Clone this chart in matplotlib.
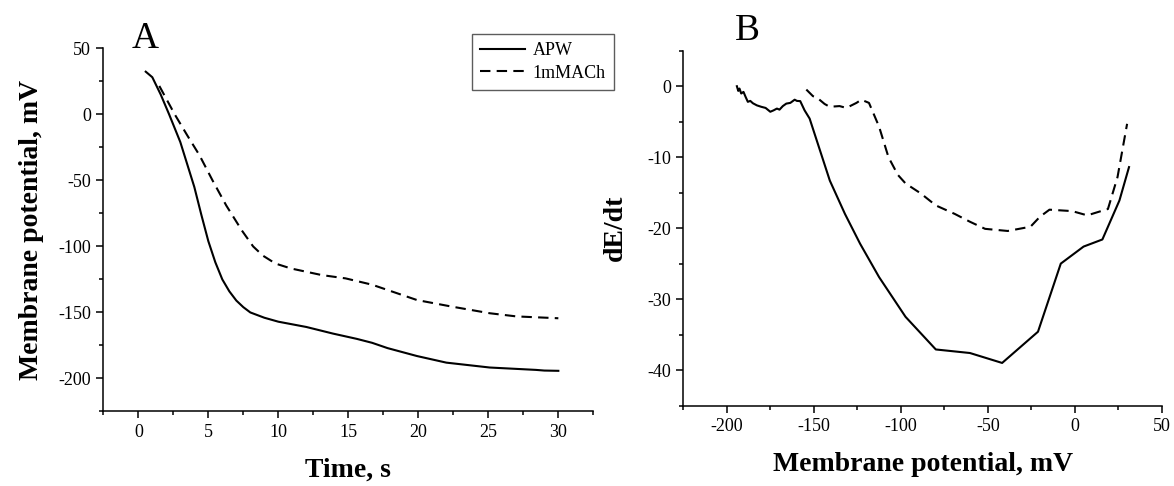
import matplotlib
matplotlib.use("Agg")
import matplotlib.pyplot as plt
from matplotlib.ticker import MultipleLocator

plt.rcParams['font.family'] = ['Liberation Serif', 'DejaVu Serif']
plt.rcParams['axes.unicode_minus'] = False

# panel A: membrane potential vs time
tA_apw = [0.53, 1.0, 1.6, 2.2, 3.0, 3.5, 4.0, 4.5, 5.0, 5.5, 6.0, 6.5, 7.0, 7.5, 8.0,
          9.0, 10.0, 12.0, 13.9, 15.6, 16.7, 17.8, 19.9, 22.0, 25.1, 28.4, 29.0, 30.0]
eA_apw = [32.3, 28.1, 15.0, 0.0, -21.0, -38.0, -55.0, -76.0, -96.0, -112.0, -125.0, -134.0,
          -141.0, -146.0, -150.0, -154.0, -157.0, -161.0, -166.0, -170.0, -173.0, -177.0,
          -183.0, -188.0, -191.7, -193.5, -194.0, -194.2]
tA_ach = [1.5, 2.6, 3.5, 4.37, 5.3, 6.28, 7.4, 8.2, 8.9, 9.8, 10.9, 13.1, 14.8, 16.7, 19.9,
          22.4, 25.1, 27.0, 30.0]
eA_ach = [21.5, 0.0, -16.0, -31.0, -50.0, -69.0, -88.0, -100.0, -107.0, -113.0, -116.7,
          -121.7, -124.2, -129.0, -140.6, -145.6, -150.6, -153.0, -154.4]

# panel B: dE/dt vs membrane potential
eB_apw = [-194.2, -193.4, -192.7, -191.7, -190.4, -189.2, -187.9, -186.5, -185.0, -182.7,
          -180.2, -177.7, -175.0, -173.1, -171.2, -169.7, -167.8, -165.8, -163.5, -161.0,
          -159.7, -157.8, -155.3, -152.4, -140.8, -132.1, -123.4, -112.5, -97.3, -79.9,
          -60.3, -41.8, -21.2, -8.1, 5.0, 15.8, 25.6, 31.1]
dB_apw = [0.0, -0.66, -0.33, -1.03, -0.8, -1.5, -2.2, -2.07, -2.4, -2.7, -2.9, -3.06, -3.6,
          -3.4, -3.15, -3.3, -2.8, -2.45, -2.35, -1.9, -2.07, -2.1, -3.4, -4.56, -13.3, -18.0,
          -22.2, -26.9, -32.5, -37.1, -37.6, -39.0, -34.6, -25.0, -22.6, -21.6, -16.1, -11.4]
eB_ach = [-154.3, -150.5, -148.2, -143.8, -140.9, -135.2, -131.3, -125.5, -122.7, -118.3,
          -112.5, -107.1, -101.7, -97.3, -88.6, -79.9, -69.0, -60.3, -51.6, -38.6, -25.5,
          -20.1, -14.6, -1.6, 7.1, 19.0, 24.5, 30.0]
dB_ach = [-0.47, -1.4, -1.6, -2.5, -2.9, -2.8, -3.06, -2.35, -1.9, -2.35, -5.7, -10.0, -12.5,
          -13.7, -15.1, -16.8, -18.0, -19.1, -20.1, -20.4, -19.8, -18.4, -17.4, -17.6, -18.2,
          -17.3, -12.8, -5.3]

fig = plt.figure(figsize=(11.74, 4.86), dpi=100)
axA = fig.add_axes([0.0880, 0.1533, 0.4174, 0.7473])
axB = fig.add_axes([0.5820, 0.1656, 0.4077, 0.7300])

dash = (0, (5, 3))
lA1, = axA.plot(tA_apw, eA_apw, color='black', lw=1.5, label='APW')
lA2, = axA.plot(tA_ach, eA_ach, color='black', lw=1.5, linestyle=dash, label='1mMACh')
axB.plot(eB_apw, dB_apw, color='black', lw=1.5)
axB.plot(eB_ach, dB_ach, color='black', lw=1.5, linestyle=dash)

axA.set_xlim(-2.5, 32.5)
axA.set_ylim(-225, 50)
axA.xaxis.set_major_locator(MultipleLocator(5))
axA.xaxis.set_minor_locator(MultipleLocator(2.5))
axA.yaxis.set_major_locator(MultipleLocator(50))
axA.yaxis.set_minor_locator(MultipleLocator(25))

axB.set_xlim(-225, 50)
axB.set_ylim(-45, 5)
axB.xaxis.set_major_locator(MultipleLocator(50))
axB.xaxis.set_minor_locator(MultipleLocator(25))
axB.yaxis.set_major_locator(MultipleLocator(10))
axB.yaxis.set_minor_locator(MultipleLocator(5))

for ax in (axA, axB):
    ax.spines['top'].set_visible(False)
    ax.spines['right'].set_visible(False)
    ax.spines['left'].set_linewidth(1.1)
    ax.spines['bottom'].set_linewidth(1.1)
    ax.tick_params(which='major', direction='out', length=5, width=1.1,
                   labelsize=13, pad=4)
    ax.tick_params(which='minor', direction='out', length=3, width=1.1)

axA.set_xlabel('Time, s', fontsize=20, fontweight='bold', labelpad=12)
axA.set_ylabel('Membrane potential, mV', fontsize=20, fontweight='bold', labelpad=10)
axB.set_xlabel('Membrane potential, mV', fontsize=20, fontweight='bold', labelpad=12)
axB.set_ylabel('dE/dt', fontsize=20, fontweight='bold', labelpad=14)

fig.text(132 / 1174, 1 - 47.7 / 486, 'A', fontsize=27, ha='left', va='baseline')
fig.text(735 / 1174, 1 - 40 / 486, 'B', fontsize=27, ha='left', va='baseline')

leg = fig.legend(handles=[lA1, lA2], loc='upper left', bbox_to_anchor=(472 / 1174, 1 - 34 / 486),
                 borderaxespad=0, fontsize=13, frameon=True, fancybox=False,
                 edgecolor='#333333', handlelength=2.5, handletextpad=0.4,
                 borderpad=0.45, labelspacing=0.3)
leg.get_frame().set_linewidth(1.0)

fig.savefig('out.png', dpi=100)
